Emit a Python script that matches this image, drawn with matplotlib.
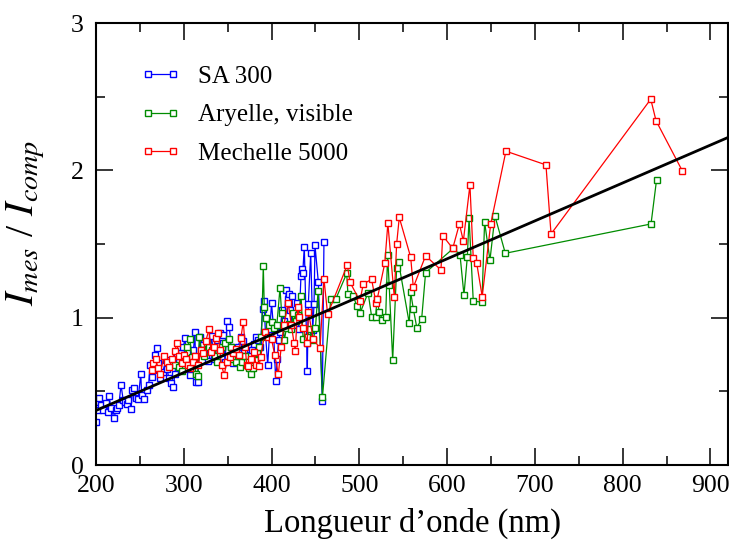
import matplotlib
matplotlib.use('Agg')
import matplotlib.pyplot as plt
from matplotlib.ticker import MultipleLocator

plt.rcParams['font.family'] = ['Liberation Serif', 'DejaVu Serif']
plt.rcParams['mathtext.fontset'] = 'stix'

# ---------------- data ----------------
sa300_x = [200.0, 200.8, 202.0, 203.4, 205.7, 208.3, 211.0, 213.3, 214.8, 217.0, 220.8, 222.4, 224.0,
           226.0, 228.5, 231.0, 233.0, 235.0, 236.8, 240.0, 241.4, 243.6, 245.2, 248.0, 251.0, 252.0,
           255.0, 257.8, 260.0, 261.5, 263.4, 265.3, 267.2, 269.0, 271.0, 273.0, 276.0, 279.7, 281.0,
           283.0, 286.0, 288.0, 290.0, 292.0, 295.0, 297.0, 299.5, 301.4, 303.0, 305.0, 307.0, 309.0,
           311.0, 312.8, 313.5, 315.8, 318.5, 321.5, 323.0, 325.0, 328.0, 330.0, 331.8, 334.0, 336.0,
           338.0, 341.0, 343.0, 345.0, 347.0, 349.6, 351.9, 354.0, 356.0, 358.0, 360.3, 362.0, 364.8,
           367.0, 369.0, 371.0, 373.5, 376.0, 378.0, 380.0, 382.0, 384.5, 387.0, 390.0, 391.4, 393.0,
           395.6, 398.0, 400.0, 402.0, 404.7, 406.5, 408.0, 410.0, 412.0, 414.0, 417.0, 418.5, 420.0,
           421.5, 423.0, 425.0, 427.0, 429.0, 431.0, 433.5, 434.3, 435.5, 437.3, 440.0, 440.7, 441.9,
           444.6, 446.9, 448.4, 449.5, 453.3, 457.8, 459.7]
sa300_y = [0.29, 0.385, 0.37, 0.453, 0.407, 0.373, 0.419, 0.362, 0.468, 0.385, 0.317, 0.373, 0.39,
           0.407, 0.543, 0.441, 0.43, 0.414, 0.441, 0.378, 0.509, 0.52, 0.453, 0.446, 0.618, 0.475,
           0.446, 0.509, 0.54, 0.679, 0.60, 0.645, 0.747, 0.792, 0.69, 0.589, 0.63, 0.713, 0.65,
           0.589, 0.555, 0.532, 0.62, 0.747, 0.70, 0.76, 0.803, 0.86, 0.72, 0.66, 0.61, 0.70,
           0.78, 0.905, 0.566, 0.566, 0.87, 0.815, 0.78, 0.74, 0.706, 0.78, 0.876, 0.72, 0.74,
           0.85, 0.894, 0.87, 0.883, 0.70, 0.978, 0.935, 0.80, 0.69, 0.72, 0.70, 0.80, 0.87,
           0.84, 0.78, 0.70, 0.73, 0.75, 0.78, 0.82, 0.87, 0.85, 0.80, 1.057, 1.113, 0.90,
           0.679, 0.92, 1.098, 0.95, 0.572, 0.717, 0.85, 0.90, 1.05, 0.98, 1.19, 1.13, 1.16,
           1.05, 1.15, 1.0, 0.95, 1.10, 0.92, 1.28, 1.33, 1.30, 1.48, 0.826, 0.638, 1.093,
           1.44, 0.917, 1.093, 1.49, 1.24, 0.437, 1.516]

aryelle_x = [290.5, 294.9, 297.5, 301.4, 304.0, 307.0, 309.0, 311.5, 314.0, 315.8, 317.7, 320.0, 323.0,
             326.0, 329.0, 332.0, 335.0, 338.0, 341.0, 344.0, 347.5, 351.5, 354.0, 356.0, 359.0, 361.5,
             364.0, 366.5, 369.7, 372.5, 374.5, 376.6, 379.0, 381.0, 383.5, 386.0, 388.5, 390.6, 391.7,
             394.0, 397.0, 400.5, 403.0, 406.0, 409.6, 411.5, 414.6, 417.0, 419.5, 422.0, 424.8, 427.5,
             430.5, 433.6, 436.0, 440.0, 443.5, 447.6, 450.0, 453.0, 458.0, 467.4, 473.4, 485.6, 487.0,
             493.0, 497.0, 500.8, 510.0, 514.0, 518.6, 520.0, 522.7, 526.3, 530.0, 532.2, 534.0, 538.0,
             542.5, 544.7, 556.9, 558.5, 561.5, 565.5, 571.0, 575.5, 607.0, 614.7, 619.2, 623.0, 625.0,
             629.8, 639.7, 642.7, 648.8, 654.5, 666.3, 832.3, 838.6]
aryelle_y = [0.68, 0.667, 0.64, 0.724, 0.80, 0.853, 0.735, 0.70, 0.618, 0.604, 0.871, 0.78, 0.74,
             0.826, 0.80, 0.78, 0.74, 0.70, 0.76, 0.80, 0.83, 0.853, 0.80, 0.72, 0.70, 0.74,
             0.667, 0.70, 0.742, 0.70, 0.66, 0.62, 0.66, 0.71, 0.76, 0.80, 0.87, 1.353, 1.07,
             1.00, 0.95, 0.97, 0.93, 0.95, 1.20, 1.03, 0.85, 0.93, 0.96, 0.92, 1.03, 0.98,
             1.02, 1.15, 0.855, 0.87, 0.92, 0.85, 0.93, 1.18, 0.46, 1.125, 1.13, 1.30, 1.16,
             1.15, 1.08, 1.03, 1.17, 1.007, 1.003, 1.13, 1.04, 0.985, 1.003, 1.426, 1.22, 0.713,
             1.335, 1.376, 0.962, 1.172, 1.059, 0.932, 0.991, 1.306, 1.47, 1.426, 1.154, 1.41, 1.675,
             1.113, 1.105, 1.65, 1.39, 1.69, 1.437, 1.636, 1.935]

mechelle_x = [263.4, 265.3, 268.0, 270.5, 273.0, 277.5, 280.5, 283.5, 287.0, 290.0, 292.0, 295.0, 297.6,
              300.0, 302.5, 305.0, 307.0, 310.0, 313.0, 316.5, 319.6, 322.0, 325.0, 328.7, 331.0, 334.0,
              336.5, 339.3, 341.0, 343.0, 346.0, 349.0, 352.6, 356.0, 359.0, 362.5, 365.0, 367.8, 370.0,
              371.7, 373.5, 377.0, 380.4, 382.0, 385.7, 387.6, 392.5, 396.0, 400.0, 403.5, 407.7, 411.0,
              414.0, 419.0, 422.5, 425.6, 427.0, 429.8, 431.6, 436.0, 440.7, 441.9, 447.6, 455.2, 459.7,
              463.9, 486.3, 489.4, 500.7, 504.5, 514.0, 519.0, 520.5, 529.0, 532.5, 539.8, 542.5, 545.5,
              558.5, 561.5, 575.5, 593.0, 595.0, 606.4, 614.0, 618.5, 626.0, 629.8, 633.7, 640.0, 649.6,
              667.0, 712.6, 718.4, 832.0, 838.0, 868.0]
mechelle_y = [0.645, 0.69, 0.72, 0.66, 0.618, 0.74, 0.70, 0.667, 0.72, 0.776, 0.826, 0.74, 0.695,
              0.75, 0.72, 0.68, 0.656, 0.70, 0.74, 0.68, 0.78, 0.758, 0.84, 0.92, 0.77, 0.80,
              0.86, 0.898, 0.78, 0.679, 0.61, 0.70, 0.735, 0.76, 0.785, 0.75, 0.86, 0.973, 0.80,
              0.679, 0.672, 0.72, 0.77, 0.679, 0.672, 0.735, 0.905, 0.87, 0.853, 0.75, 0.616, 0.80,
              0.95, 1.10, 0.95, 0.83, 0.776, 1.075, 1.003, 0.93, 0.83, 1.04, 0.853, 0.792, 1.263,
              1.023, 1.358, 1.24, 1.113, 1.229, 1.26, 1.098, 1.13, 1.37, 1.64, 1.143, 1.50, 1.68,
              1.41, 1.206, 1.42, 1.324, 1.557, 1.47, 1.636, 1.52, 1.90, 1.403, 1.37, 1.143, 1.634,
              2.13, 2.037, 1.568, 2.483, 2.337, 1.996]

fit_x = [200, 920]
fit_y = [0.37, 2.223]

series_labels = ['SA 300', 'Aryelle, visible', 'Mechelle 5000']
series_colors = ['#0000ff', '#008c00', '#ff0000']

# ---------------- figure ----------------
fig = plt.figure(figsize=(7.29, 5.40), dpi=100)
ax = fig.add_axes([96 / 729, 75 / 540, 632 / 729, 442 / 540])

for xs, ys, lab, col in zip([sa300_x, aryelle_x, mechelle_x],
                            [sa300_y, aryelle_y, mechelle_y],
                            series_labels, series_colors):
    ax.plot(xs, ys, '-s', color=col, lw=0.9, ms=3.9, mfc='white', mec=col, mew=1.0, label=lab)

ax.plot(fit_x, fit_y, color='black', lw=2.0, zorder=5)

ax.set_xlim(200, 920)
ax.set_ylim(0, 3)
ax.xaxis.set_major_locator(MultipleLocator(100))
ax.xaxis.set_minor_locator(MultipleLocator(50))
ax.yaxis.set_major_locator(MultipleLocator(1))
ax.yaxis.set_minor_locator(MultipleLocator(0.5))
ax.tick_params(which='both', direction='in', top=True, right=True, width=1.1, colors='black')
ax.tick_params(which='major', length=12.5, labelsize=18.5)
ax.tick_params(which='minor', length=6.5)
ax.tick_params(axis='x', which='major', pad=7)
ax.tick_params(axis='y', which='major', pad=9)
for sp in ax.spines.values():
    sp.set_linewidth(1.5)

ax.set_xlabel('Longueur d\u2019onde (nm)', fontsize=23.5, labelpad=8)
ax.set_ylabel(r'$I_{mes}$ / $I_{comp}$', fontsize=29)
ax.yaxis.set_label_coords(-0.078, 0.548)

ax.legend(loc='upper left', bbox_to_anchor=(0.055, 0.926), frameon=False, fontsize=18,
          handlelength=1.6, handletextpad=0.7, labelspacing=0.63, numpoints=2,
          borderaxespad=0)

fig.savefig('out.png', dpi=100)
